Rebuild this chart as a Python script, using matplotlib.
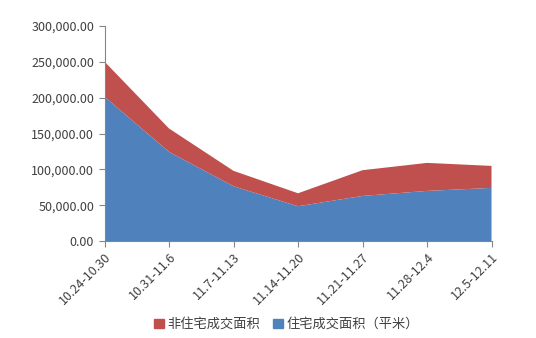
import matplotlib
matplotlib.use("Agg")
import matplotlib.pyplot as plt
from matplotlib.patches import Patch
from matplotlib.ticker import FuncFormatter

plt.rcParams["font.family"] = ["Noto Sans CJK SC", "DejaVu Sans"]

weeks = ["10.24-10.30", "10.31-11.6", "11.7-11.13", "11.14-11.20",
         "11.21-11.27", "11.28-12.4", "12.5-12.11"]
residential = [201300, 124400, 76400, 48500, 62900, 69900, 74100]
non_residential = [49000, 32600, 21500, 18100, 35900, 39100, 30700]

BLUE = "#4F81BD"
RED = "#C0504D"
TEXT = "#404040"
AXIS = "#868686"

fig = plt.figure(figsize=(5.36, 3.38), dpi=100)
ax = fig.add_axes([0.195, 0.287, 0.722, 0.636])

x = list(range(len(weeks)))
ax.stackplot(x, residential, non_residential, colors=[BLUE, RED], linewidth=0)

ax.set_xlim(0, len(weeks) - 1)
ax.set_ylim(0, 300000)
ax.set_yticks(range(0, 300001, 50000))
ax.yaxis.set_major_formatter(FuncFormatter(lambda v, _: f"{v:,.2f}"))
ax.set_xticks(x)
ax.set_xticklabels(weeks, rotation=45, ha="right", rotation_mode="anchor")

for side in ("top", "right"):
    ax.spines[side].set_visible(False)
for side in ("left", "bottom"):
    ax.spines[side].set_color(AXIS)
    ax.spines[side].set_linewidth(0.8)
ax.tick_params(axis="both", colors=AXIS, labelcolor=TEXT, labelsize=9, length=4, width=0.8)
ax.tick_params(axis="x", pad=3)

handles = [Patch(color=RED, label="非住宅成交面积"),
           Patch(color=BLUE, label="住宅成交面积（平米）")]
fig.legend(handles=handles, loc="center", bbox_to_anchor=(0.535, 0.04), ncol=2,
           frameon=False, fontsize=9.5, handlelength=0.7, handleheight=0.7,
           handletextpad=0.3, columnspacing=1.0, labelcolor=TEXT)

fig.savefig("out.png", dpi=100)
